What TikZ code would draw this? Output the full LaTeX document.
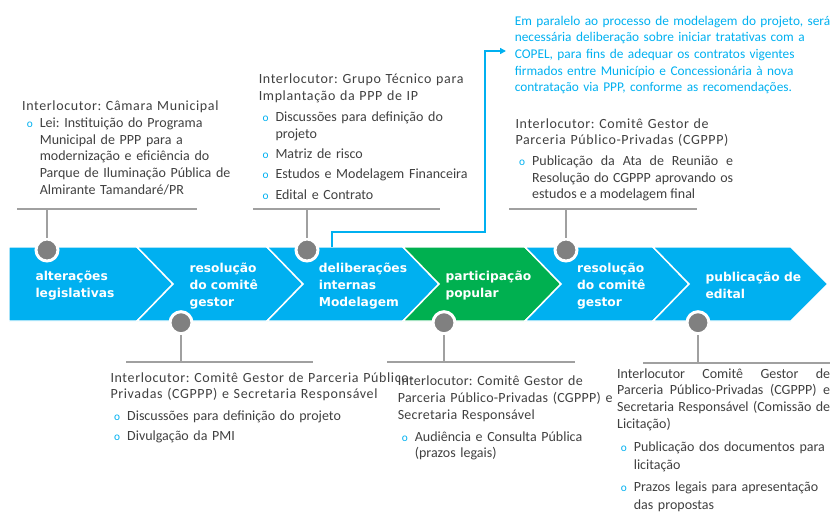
\documentclass[tikz,border=0pt]{standalone}
\usepackage{fontspec}
\setmainfont{Carlito}
\newfontfamily\ttlfont{Carlito}[LetterSpace=4.5]
\newfontfamily\ttlfontb{Carlito}[LetterSpace=2]
\newfontfamily\chvfont{DejaVu Sans}
\usetikzlibrary{arrows.meta}
\frenchspacing

\definecolor{chevblue}{RGB}{0,176,240}
\definecolor{chevgreen}{RGB}{0,176,80}
\definecolor{txtgray}{RGB}{64,64,64}
\definecolor{pingray}{RGB}{128,128,128}
\definecolor{rulegray}{RGB}{160,160,160}

\newlength{\bind}
\setlength{\bind}{9.75pt}
\newlength{\itmgap}
\setlength{\itmgap}{2.7pt}
\newcommand{\itm}[1]{\hangindent=\bind\hangafter=1\noindent\makebox[\bind][l]{\textcolor{chevblue}{\fontsize{8.5}{8.5}\selectfont o}}#1\par\vspace{\itmgap}}

\tikzset{every picture/.style={line width=0.75pt}}
\tikzset{
  chev/.style={draw=white,line width=1.1pt,fill=chevblue},
  chevlbl/.style={anchor=west,align=left,text=white,inner sep=0pt,font=\chvfont\bfseries\fontsize{9.2}{12.75}\selectfont},
  pin/.style={circle,fill=pingray,draw=white,line width=2.25pt,minimum size=16.5pt,inner sep=0pt},
  rule/.style={draw=rulegray,line width=1.1pt},
  ttl/.style={anchor=base west,inner sep=0pt,align=left,text=txtgray,font=\ttlfont\fontsize{10.5}{12.5}\selectfont},
  lst/.style={anchor=base west,inner sep=0pt,align=left,text=txtgray,font=\fontsize{10.5}{12.5}\selectfont},
  nota/.style={anchor=base west,inner sep=0pt,align=left,text=chevblue,font=\fontsize{10}{12.5}\selectfont},
  notearrow/.style={draw=chevblue,line width=1.1pt,-{Triangle[length=4.5pt,width=4.5pt]}}
}

\begin{document}
\begin{tikzpicture}[x=0.75pt,y=0.75pt,yscale=-1,xscale=1]
\useasboundingbox (0,0) rectangle (836,512);

%Shape: Chevron 1
\draw [chev] (9,247) -- (137,247) -- (173,284) -- (137,321) -- (9,321) -- cycle ;
%Shape: Chevron 2
\draw [chev] (137,247) -- (267,247) -- (303,284) -- (267,321) -- (137,321) -- (173,284) -- cycle ;
%Shape: Chevron 3
\draw [chev] (267,247) -- (403,247) -- (439,284) -- (403,321) -- (267,321) -- (303,284) -- cycle ;
%Shape: Chevron 4
\draw [chev,fill=chevgreen] (403,247) -- (525,247) -- (561,284) -- (525,321) -- (403,321) -- (439,284) -- cycle ;
%Shape: Chevron 5
\draw [chev] (525,247) -- (653,247) -- (689,284) -- (653,321) -- (525,321) -- (561,284) -- cycle ;
%Shape: Chevron 6
\draw [chev] (653,247) -- (791,247) -- (828,284) -- (791,321) -- (653,321) -- (689,284) -- cycle ;

% Chevron labels
\draw (35,285.2) node (lblA) [chevlbl] {alterações\\legislativas};
\draw (189,285.7) node (lblB) [chevlbl] {resolução\\do comitê\\gestor};
\draw (318.3,285.7) node (lblC) [chevlbl] {deliberações\\internas\\Modelagem};
\draw (445,285.2) node (lblD) [chevlbl] {participação\\popular};
\draw (576.7,285.7) node (lblE) [chevlbl] {resolução\\do comitê\\gestor};
\draw (705,285.2) node (lblF) [chevlbl] {publicação de\\edital};

% Rules
\coordinate (rA1) at (17,209); \coordinate (rA2) at (197,209);
\coordinate (rC1) at (253,209); \coordinate (rC2) at (440,209);
\coordinate (rE1) at (509,209); \coordinate (rE2) at (697,209);
\coordinate (rB1) at (126,362); \coordinate (rB2) at (313,362);
\coordinate (rD1) at (387,362); \coordinate (rD2) at (575,362);
\coordinate (rF1) at (643,363); \coordinate (rF2) at (830,363);
\draw [rule] (rA1) -- (rA2) ;
\draw [rule] (rC1) -- (rC2) ;
\draw [rule] (rE1) -- (rE2) ;
\draw [rule] (rB1) -- (rB2) ;
\draw [rule] (rD1) -- (rD2) ;
\draw [rule] (rF1) -- (rF2) ;

% Pins
\draw (47,250) node (pinA) [pin] {};
\draw (181,322.7) node (pinB) [pin] {};
\draw (307,250) node (pinC) [pin] {};
\draw (444,322.7) node (pinD) [pin] {};
\draw (566,250) node (pinE) [pin] {};
\draw (698,322.7) node (pinF) [pin] {};
\draw [rule] (pinA) -- (pinA |- rA1) ;
\draw [rule] (pinB) -- (pinB |- rB1) ;
\draw [rule] (pinC) -- (pinC |- rC1) ;
\draw [rule] (pinD) -- (pinD |- rD1) ;
\draw [rule] (pinE) -- (pinE |- rE1) ;
\draw [rule] (pinF) -- (pinF |- rF1) ;

% Note arrow
\coordinate (ar0) at (332,247);
\coordinate (ar1) at (485,232);
\coordinate (ar2) at (506,51);
\draw [notearrow] (ar0) |- (ar1) |- (ar2) ;

% Text Node
\draw (514.3,25) node (nota) [nota,text width=262pt] {Em paralelo ao processo de modelagem do projeto, será\\necessária deliberação sobre iniciar tratativas com a\\COPEL, para fins de adequar os contratos vigentes\\firmados entre Município e Concessionária à nova\\contratação via PPP, conforme as recomendações.};

% Text Node
\draw (21.7,110) node (ttlA) [ttl,text width=175pt] {Interlocutor: Câmara Municipal};
\draw (26.3,127.6) node (lstA) [lst,text width=180pt] {\itm{Lei: Instituição do Programa\newline Municipal de PPP para a\newline modernização e eficiência do\newline Parque de Iluminação Pública de\newline Almirante Tamandaré/PR}};

% Text Node
\draw (258.3,83.6) node (ttlC) [ttl,text width=175pt] {Interlocutor: Grupo Técnico para\\Implantação da PPP de IP};
\draw (262,121.6) node (lstC) [lst,text width=165pt] {\itm{Discussões para definição do\newline projeto}\itm{Matriz de risco}\itm{Estudos e Modelagem Financeira}\itm{Edital e Contrato}};

% Text Node
\draw (515,128.3) node (ttlE) [ttl,text width=175pt] {Interlocutor: Comitê Gestor de\\Parceria Público-Privadas (CGPPP)};
\draw (518.7,165.6) node (lstE) [lst,align=justify,text width=160.5pt] {\itm{Publicação da Ata de Reunião e\linebreak Resolução do CGPPP aprovando os\linebreak estudos e a modelagem final}};

% Text Node
\draw (110,382.3) node (ttlB) [ttl,text width=250pt] {Interlocutor: Comitê Gestor de Parceria Público-\\Privadas (CGPPP) e Secretaria Responsável};
\draw (113.7,420) node (lstB) [lst,text width=200pt] {\itm{Discussões para definição do projeto}\itm{Divulgação da PMI}};

% Text Node
\draw (397.3,385) node (ttlD) [ttl,font=\ttlfontb\fontsize{10.5}{13.1}\selectfont,text width=175pt] {Interlocutor: Comitê Gestor de\\Parceria Público-Privadas (CGPPP) e\\Secretaria Responsável};
\draw (401.3,441) node (lstD) [lst,text width=160pt] {\itm{Audiência e Consulta Pública\newline (prazos legais)}};

% Text Node
\draw (616.7,378.3) node (ttlF) [ttl,font=\fontsize{10.5}{12.5}\selectfont,align=justify,text width=159.75pt] {Interlocutor Comitê Gestor de\linebreak Parceria Público-Privadas (CGPPP) e\linebreak Secretaria Responsável (Comissão de\linebreak Licitação)};
\draw (620.3,451.6) node (lstF) [lst,font=\fontsize{10.5}{13.1}\selectfont,text width=160pt] {\setlength{\itmgap}{3.8pt}\itm{Publicação dos documentos para\newline licitação}\itm{Prazos legais para apresentação\newline das propostas}};

\end{tikzpicture}
\end{document}
